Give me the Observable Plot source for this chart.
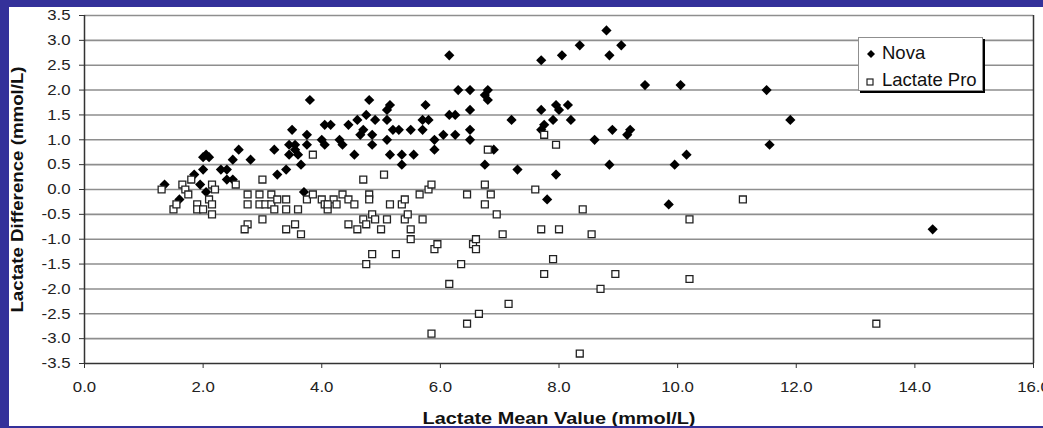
<!DOCTYPE html>
<html>
<head>
<meta charset="utf-8">
<script src="https://cdn.jsdelivr.net/npm/d3@7"></script>
<script src="https://cdn.jsdelivr.net/npm/@observablehq/plot@0.6"></script>
<style>
  html, body { margin: 0; padding: 0; width: 1043px; height: 428px; overflow: hidden; background: #34319a; }
  #panel { position: absolute; left: 9px; top: 7px; width: 1034px; height: 419px; background: #fff; }
  #legend { position: absolute; left: 849px; top: 30px; width: 123px; height: 52px; background: #fff;
            border: 1px solid #8f8f8f; box-shadow: 2px 2px 0 #000;
            font-family: "Liberation Sans", Arial, sans-serif; font-size: 18.5px; color: #111; }
  #legend .row { position: absolute; left: 23px; line-height: 1; white-space: nowrap; }
  #legend svg { position: absolute; overflow: visible; }
</style>
</head>
<body>
<div id="panel">
  <div id="chart"></div>
  <div id="legend">
    <svg style="left:12px;top:16px" width="1" height="1"><path d="M0,-4L4,0L0,4L-4,0Z" fill="#000"/></svg>
    <div class="row" style="top:6px">Nova</div>
    <svg style="left:11px;top:44px" width="1" height="1"><rect x="-3" y="-3" width="6" height="6" fill="#fff" stroke="#222" stroke-width="1.2"/></svg>
    <div class="row" style="top:33px">Lactate Pro</div>
  </div>
</div>
<script>
// Axis setup
const xDomain = [0, 16];
const yDomain = [-3.5, 3.5];
const xTicks = [0, 2, 4, 6, 8, 10, 12, 14, 16];
const yTicks = [-3.5, -3, -2.5, -2, -1.5, -1, -0.5, 0, 0.5, 1, 1.5, 2, 2.5, 3, 3.5];

// Nova: mean lactate (mmol/L) and difference (mmol/L)
const novaMean = [
  1.35, 1.6, 1.85, 1.95, 2.0, 2.0, 2.05, 2.1, 2.05, 2.3, 2.4, 2.4, 2.5, 2.5, 2.6, 2.8,
  3.2, 3.25, 3.4, 3.45, 3.5, 3.45, 3.55, 3.55, 3.6, 3.65, 3.75, 3.75, 3.8, 3.7,
  4.0, 4.05, 4.05, 4.15, 4.3, 4.35, 4.45, 4.55, 4.6, 4.65, 4.7, 4.75, 4.8, 4.85, 4.85, 4.9,
  5.1, 5.1, 5.15, 5.1, 5.15, 5.2, 5.3, 5.35, 5.35, 5.5, 5.55, 5.7, 5.7, 5.8, 5.75, 5.9, 5.9,
  6.05, 6.15, 6.15, 6.25, 6.25, 6.3, 6.5, 6.5, 6.5, 6.5, 6.75, 6.75, 6.8, 6.8, 6.9,
  7.2, 7.3, 7.7, 7.7, 7.75, 7.7, 7.8, 7.9, 7.95, 8.0, 7.95, 8.05, 8.15, 8.2, 8.35,
  8.6, 8.8, 8.85, 8.85, 8.9, 9.05, 9.15, 9.2, 9.45, 9.85, 9.95, 10.05, 10.15,
  11.5, 11.9, 11.55, 14.3
];
const novaDiff = [
  0.1, -0.2, 0.3, 0.1, 0.4, 0.65, 0.7, 0.65, -0.05, 0.4, 0.4, 0.2, 0.6, 0.2, 0.8, 0.6,
  0.8, 0.3, 0.4, 0.7, 1.2, 0.9, 0.9, 0.8, 0.7, 0.5, 0.9, 1.1, 1.8, -0.05,
  1.0, 0.9, 1.3, 1.3, 1.0, 0.9, 1.3, 0.7, 1.4, 1.1, 1.2, 1.5, 1.8, 1.1, 0.9, 1.4,
  1.4, 1.6, 1.7, 1.0, 0.7, 1.2, 1.2, 0.7, 0.5, 1.2, 0.7, 1.2, 1.4, 1.4, 1.7, 1.0, 0.8,
  1.1, 2.7, 1.5, 1.5, 1.1, 2.0, 2.0, 1.6, 1.2, 1.0, 0.5, 1.9, 2.0, 1.8, 0.8,
  1.4, 0.4, 2.6, 1.6, 1.3, 1.2, -0.2, 1.4, 1.7, 1.6, 0.3, 2.7, 1.7, 1.4, 2.9,
  1.0, 3.2, 2.7, 0.5, 1.2, 2.9, 1.1, 1.2, 2.1, -0.3, 0.5, 2.1, 0.7,
  2.0, 1.4, 0.9, -0.8
];

// Lactate Pro: mean lactate (mmol/L) and difference (mmol/L)
const proMean = [
  1.3, 1.5, 1.55, 1.65, 1.7, 1.8, 1.75, 1.9, 1.9, 2.0, 2.1, 2.15, 2.2, 2.15, 2.15,
  2.55, 2.75, 2.75, 2.75, 2.7, 2.95, 2.95, 3.0, 3.0, 3.05, 3.15, 3.15, 3.2, 3.25,
  3.4, 3.4, 3.4, 3.55, 3.6, 3.65, 3.85, 3.75, 3.85, 4.0, 4.05, 4.1, 4.2, 4.1, 4.25,
  4.35, 4.45, 4.45, 4.55, 4.6, 4.7, 4.7, 4.8, 4.8, 4.75, 4.85, 4.9, 4.85, 4.75,
  5.0, 5.05, 5.1, 5.15, 5.25, 5.35, 5.4, 5.4, 5.45, 5.5, 5.5, 5.65, 5.7, 5.8, 5.85,
  5.9, 5.95, 5.85, 6.15, 6.35, 6.45, 6.45, 6.55, 6.6, 6.6, 6.65, 6.75, 6.8, 6.85,
  6.75, 6.95, 7.05, 7.15, 7.6, 7.7, 7.75, 7.75, 7.9, 7.95, 8.0, 8.35, 8.4, 8.55,
  8.7, 8.95, 10.2, 10.2, 11.1, 13.35
];
const proDiff = [
  0.0, -0.4, -0.3, 0.1, 0.0, 0.2, -0.1, -0.3, -0.4, -0.4, -0.2, 0.1, 0.0, -0.3, -0.5,
  0.1, -0.1, -0.3, -0.7, -0.8, -0.1, -0.3, 0.2, -0.6, -0.3, -0.1, -0.3, -0.4, -0.2,
  -0.2, -0.4, -0.8, -0.7, -0.4, -0.9, 0.7, -0.2, -0.1, -0.2, -0.3, -0.4, -0.2, -0.3, -0.3,
  -0.1, -0.2, -0.7, -0.3, -0.8, 0.2, -0.6, -0.1, -0.2, -0.7, -0.5, -0.6, -1.3, -1.5,
  -0.8, 0.3, -0.6, -0.3, -1.3, -0.3, -0.2, -0.6, -0.5, -0.8, -1.0, -0.1, -0.6, 0.0, 0.1,
  -1.2, -1.1, -2.9, -1.9, -1.5, -0.1, -2.7, -1.1, -1.0, -1.2, -2.5, 0.1, 0.8, -0.1,
  -0.3, -0.5, -0.9, -2.3, 0.0, -0.8, 1.1, -1.7, -1.4, 0.9, -0.8, -3.3, -0.4, -0.9,
  -2.0, -1.7, -0.6, -1.8, -0.2, -2.7
];

const nova = novaMean.map((m, i) => ({mean: m, diff: novaDiff[i]}));
const lactatePro = proMean.map((m, i) => ({mean: m, diff: proDiff[i]}));

const fmt = d => d.toFixed(1);
const axisColor = "#333";

const chart = Plot.plot({
  width: 1034,
  height: 419,
  marginLeft: 75,
  marginRight: 10,
  marginTop: 8,
  marginBottom: 63,
  style: {background: "transparent", fontFamily: "'Liberation Sans', Arial, sans-serif", fontSize: "15px", color: "#222"},
  x: {domain: xDomain},
  y: {domain: yDomain},
  marks: [
    // horizontal gridlines
    Plot.ruleY(yTicks.filter(v => v > yDomain[0]), {stroke: "#8e8e8e", strokeWidth: 1.6}),
    // right border of the plotting area
    Plot.ruleX([xDomain[1]], {stroke: axisColor, strokeWidth: 1.5}),
    Plot.axisY({ticks: yTicks, tickFormat: fmt, tickSize: 5, tickPadding: 9, stroke: axisColor,
                label: "Lactate Difference (mmol/L)", labelAnchor: "center", labelOffset: 74, labelArrow: "none"}),
    Plot.axisX({ticks: xTicks, tickFormat: fmt, tickSize: 5, tickPadding: 13, stroke: axisColor,
                label: "Lactate Mean Value (mmol/L)", labelAnchor: "center", labelOffset: 60, labelArrow: "none"}),
    Plot.ruleX([xDomain[0]], {stroke: axisColor, strokeWidth: 1.5}),
    Plot.ruleY([yDomain[0]], {stroke: axisColor, strokeWidth: 1.5}),
    Plot.dot(nova, {x: "mean", y: "diff", symbol: "diamond2", r: 4.6, fill: "#000", stroke: "none"}),
    Plot.dot(lactatePro, {x: "mean", y: "diff", symbol: "square", r: 3.9, fill: "#fff", stroke: "#222", strokeWidth: 1.3})
  ]
});
document.getElementById("chart").appendChild(chart);

// widen the axis typography along the text direction
function stretch(el, k) {
  const t = el.getAttribute("transform") || "";
  el.setAttribute("transform", `${t} scale(${k},1)`.trim());
}
chart.querySelectorAll("g[aria-label$='tick label'] text").forEach(el => stretch(el, 1.12));
chart.querySelectorAll("g[aria-label$='axis label'] text").forEach(el => {
  const vertical = el.closest("g").getAttribute("aria-label").startsWith("y");
  el.setAttribute("font-weight", "bold");
  el.setAttribute("font-size", "17");
  el.setAttribute("fill", "#111");
  stretch(el, vertical ? 1.1 : 1.17);
});
</script>
</body>
</html>
